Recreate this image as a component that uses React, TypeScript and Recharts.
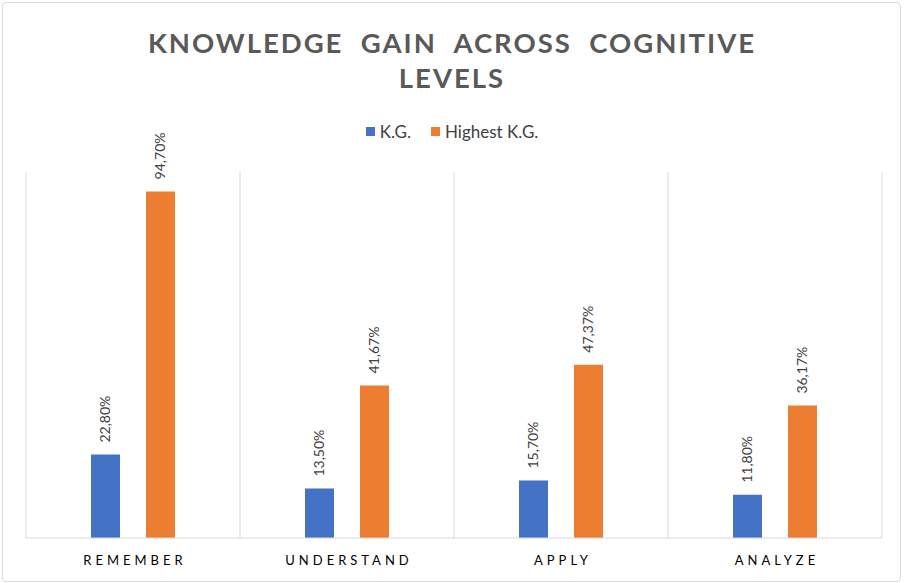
import React from 'react';
import { BarChart, Bar, XAxis, YAxis, CartesianGrid, LabelList } from 'recharts';

const levels = ['REMEMBER', 'UNDERSTAND', 'APPLY', 'ANALYZE'];
const kg = [22.8, 13.5, 15.7, 11.8];
const highestKg = [94.7, 41.67, 47.37, 36.17];
const seriesNames = ['K.G.', 'Highest K.G.'];
const seriesColors = ['#4472C4', '#ED7D31'];

const data = levels.map((name, i) => ({ name, kg: kg[i], highest: highestKg[i] }));

const FONT = 'Lato, "Liberation Sans", sans-serif';

const fmt = (v: number) => v.toFixed(2).replace('.', ',') + '%';

const RotatedLabel = (props: any) => {
  const { x, y, width, value } = props;
  const cx = x + width / 2;
  const y0 = y - 12;
  return (
    <text
      x={cx}
      y={y0}
      dy="0.35em"
      transform={`rotate(-90, ${cx}, ${y0})`}
      textAnchor="start"
      fontFamily={FONT}
      fontSize={14}
      fill="#404040"
    >
      {fmt(value)}
    </text>
  );
};

const CategoryTick = (props: any) => {
  const { x, y, payload } = props;
  return (
    <text
      x={x + 2}
      y={y + 27}
      textAnchor="middle"
      fontFamily={FONT}
      fontSize={13}
      letterSpacing={4}
      fill="#000"
    >
      {payload.value}
    </text>
  );
};

const App: React.FC = () => {
  return (
    <div style={{ position: 'absolute', left: 0, top: 0, width: 904, height: 583, background: '#fff' }}>
      <div
        style={{
          position: 'absolute',
          left: 2,
          top: 2,
          width: 897,
          height: 578,
          border: '1px solid #d9d9d9',
          borderRadius: 4,
        }}
      />
      <div
        style={{
          position: 'absolute',
          left: 0,
          top: 25,
          width: 904,
          textAlign: 'center',
          fontFamily: FONT,
          fontWeight: 700,
          fontSize: 27.5,
          lineHeight: '35px',
          letterSpacing: 2,
          color: '#595959',
        }}
      >
        KNOWLEDGE&nbsp; GAIN&nbsp; ACROSS&nbsp; COGNITIVE
        <br />
        LEVELS
      </div>
      <div
        style={{
          position: 'absolute',
          left: 0,
          top: 121,
          width: 904,
          display: 'flex',
          justifyContent: 'center',
          fontFamily: FONT,
          fontSize: 17,
          color: '#404040',
        }}
      >
        {seriesNames.map((n, i) => (
          <div key={n} style={{ display: 'flex', alignItems: 'center', marginLeft: i === 0 ? 0 : 20 }}>
            <span style={{ display: 'inline-block', width: 9, height: 9, background: seriesColors[i], marginRight: 5 }} />
            <span>{n}</span>
          </div>
        ))}
      </div>
      <BarChart
        width={904}
        height={583}
        data={data}
        margin={{ top: 172, right: 22, bottom: 15, left: 26 }}
        barSize={29}
        barGap={26}
        style={{ position: 'absolute', left: 0, top: 0 }}
      >
        <CartesianGrid
          horizontal={false}
          stroke="#d9d9d9"
          verticalCoordinatesGenerator={({ offset }: any) =>
            [0, 1, 2, 3, 4].map((i) => offset.left + (i * offset.width) / 4)
          }
        />
        <XAxis
          dataKey="name"
          height={30}
          tickLine={false}
          tickSize={0}
          tickMargin={0}
          axisLine={{ stroke: '#d9d9d9' }}
          tick={<CategoryTick />}
          interval={0}
        />
        <YAxis hide domain={[0, 100]} />
        <Bar dataKey="kg" name={seriesNames[0]} fill={seriesColors[0]} isAnimationActive={false}>
          <LabelList dataKey="kg" content={<RotatedLabel />} />
        </Bar>
        <Bar dataKey="highest" name={seriesNames[1]} fill={seriesColors[1]} isAnimationActive={false}>
          <LabelList dataKey="highest" content={<RotatedLabel />} />
        </Bar>
      </BarChart>
    </div>
  );
};

export default App;
